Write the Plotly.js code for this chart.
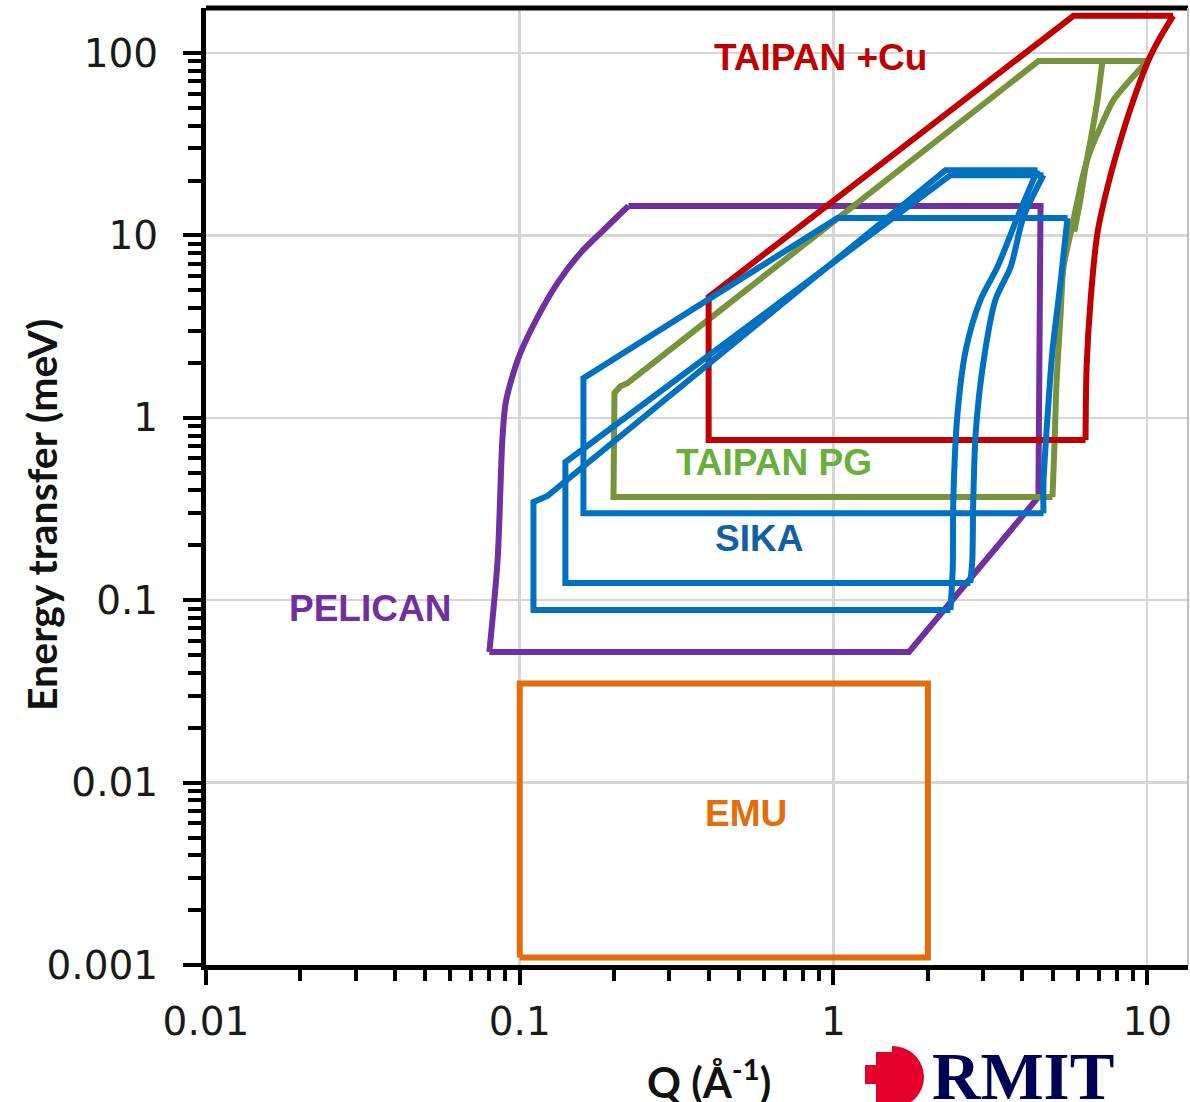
<!DOCTYPE html>
<html><head><meta charset="utf-8">
<script src="https://cdn.plot.ly/plotly-3.0.1.min.js"></script>
<style>html,body{margin:0;padding:0;background:#fff;}#chart{width:1190px;height:1102px;}</style>
</head><body><div id="chart"></div>
<script>
// ---- Data (Q in 1/Å, energy transfer in meV) ----
const emuQ = [0.1, 0.1, 2.0, 2.0, 0.1];
const emuE = [0.0011, 0.035, 0.035, 0.0011, 0.0011];

const pelicanQ = [0.222, 0.185, 0.156, 0.132, 0.114, 0.1005, 0.0934, 0.090, 0.088, 0.085, 0.080, 1.74, 4.50, 4.57, 0.222];
const pelicanE = [14.5, 10.7, 8.0, 5.5, 3.57, 2.27, 1.55, 1.18, 0.755, 0.166, 0.052, 0.052, 0.368, 14.5, 14.5];

const taipanPgQ = [0.199, 4.99, 5.07, 5.14, 5.29, 5.41, 5.70, 6.00, 6.27, 6.60, 7.10, 7.81, 8.65, 10.0, 4.50, 0.2205, 0.2094, 0.2004, 0.199];
const taipanPgE = [0.368, 0.368, 0.756, 1.55, 3.57, 6.71, 10.3, 15.6, 22.0, 29.4, 39.3, 55.3, 68.5, 90.4, 90.4, 1.55, 1.49, 1.37, 0.368];
const taipanPgBranchQ = [7.20, 6.94, 6.60, 6.36, 6.12, 5.85];
const taipanPgBranchE = [90.4, 55.3, 33.3, 23.7, 15.6, 10.5];

const taipanCuQ = [0.40, 0.40, 6.36, 6.41, 6.60, 6.94, 7.47, 8.22, 9.04, 10.1, 11.0, 12.1, 5.82, 0.40];
const taipanCuE = [4.6, 0.756, 0.756, 1.90, 4.42, 10.3, 18.4, 33.3, 55.3, 91.5, 122, 160, 160, 4.6];

const sika1Q = [0.1106, 0.1106, 0.1225, 2.275, 4.47, 3.86, 3.33, 2.94, 2.64, 2.48, 2.41, 2.40, 2.36, 0.1106];
const sika1E = [0.0884, 0.3455, 0.3726, 22.8, 22.8, 12.6, 6.71, 4.42, 2.35, 1.01, 0.354, 0.152, 0.0884, 0.0884];
const sika2Q = [0.1398, 0.1398, 0.1472, 2.36, 4.67, 4.03, 3.67, 3.28, 2.99, 2.84, 2.79, 2.77, 2.73, 0.1398];
const sika2E = [0.1243, 0.572, 0.610, 21.4, 21.4, 12.6, 6.71, 4.42, 1.90, 0.825, 0.354, 0.166, 0.1243, 0.1243];
const sika3Q = [0.1596, 0.1596, 1.03, 5.57, 5.29, 4.99, 4.81, 4.67, 4.67, 0.1596];
const sika3E = [0.30, 1.65, 12.45, 12.45, 5.48, 2.35, 1.01, 0.439, 0.30, 0.30];

const xTickVals = [0.01, 0.1, 1, 10];
const xTickText = ['0.01', '0.1', '1', '10'];
const yTickVals = [0.001, 0.01, 0.1, 1, 10, 100];
const yTickText = ['0.001', '0.01', '0.1', '1', '10', '100'];
const minorDigits = [2, 3, 4, 5, 6, 7, 8, 9];
const xMinorDecades = [0.01, 0.1, 1];
const yMinorDecades = [0.001, 0.01, 0.1, 1, 10];

const labels = [
  {text: 'TAIPAN +Cu', q: 0.91, e: 94, color: '#C00000'},
  {text: 'TAIPAN PG', q: 0.644, e: 0.572, color: '#6AAF3C'},
  {text: 'SIKA', q: 0.577, e: 0.219, color: '#1160A6'},
  {text: 'PELICAN', q: 0.0332, e: 0.0905, color: '#7030A0'},
  {text: 'EMU', q: 0.528, e: 0.00673, color: '#E46C0A'}
];

// ---- build ----
const xMinor = [], yMinor = [];
xMinorDecades.forEach(d => minorDigits.forEach(m => xMinor.push(m * d)));
yMinorDecades.forEach(d => minorDigits.forEach(m => yMinor.push(m * d)));

const LW = 6;
function tr(x, y, color, shape) {
  return {x: x, y: y, type: 'scatter', mode: 'lines', hoverinfo: 'skip',
          line: {color: color, width: LW, shape: shape || 'linear', smoothing: 0.8}, showlegend: false};
}
// polygon split into a straight part and a smooth curved part [i0..i1]
function poly(q, e, i0, i1, color) {
  const n = q.length; // last point equals first
  const sq = [], se = [];
  for (let i = i1; i < n; i++) { sq.push(q[i]); se.push(e[i]); }
  for (let i = 1; i <= i0; i++) { sq.push(q[i]); se.push(e[i]); }
  return [tr(sq, se, color), tr(q.slice(i0, i1 + 1), e.slice(i0, i1 + 1), color, 'spline')];
}

const data = [].concat(
  [tr(emuQ, emuE, '#E46C0A')],
  poly(pelicanQ, pelicanE, 0, 10, '#7030A0'),
  poly(taipanPgQ, taipanPgE, 1, 13, '#77933C'),
  [tr(taipanPgBranchQ, taipanPgBranchE, '#77933C', 'spline')],
  poly(taipanCuQ, taipanCuE, 2, 11, '#C00000'),
  poly(sika1Q, sika1E, 4, 12, '#0070C0'),
  poly(sika2Q, sika2E, 4, 12, '#0070C0'),
  poly(sika3Q, sika3E, 3, 8, '#0070C0')
);

// pixel -> paper helpers for decoration (plot area 206..1188 x 8..965)
const PX0 = 206, PW = 982, PY0 = 965, PH = 957;
function px(x) { return (x - PX0) / PW; }
function py(y) { return (PY0 - y) / PH; }
function P(x, y) { return px(x) + ',' + py(y); }

const logoPath = 'M' + P(892, 1046) + ' C' + P(910, 1046) + ' ' + P(924, 1060) + ' ' + P(924, 1077) +
  ' C' + P(924, 1094) + ' ' + P(910, 1108) + ' ' + P(892, 1108) +
  ' L' + P(876, 1108) + ' L' + P(876, 1084) + ' L' + P(865, 1084) + ' L' + P(865, 1065) +
  ' L' + P(876, 1065) + ' L' + P(876, 1052) + ' L' + P(892, 1052) + ' Z';

const annotations = labels.map(l => ({
  x: Math.log10(l.q), y: Math.log10(l.e), xref: 'x', yref: 'y', text: l.text, showarrow: false,
  xanchor: 'center', yanchor: 'middle',
  font: {family: 'Liberation Sans, Arial, sans-serif', size: 37, color: l.color, weight: 'bold'}
}));
annotations.push({
  x: px(41), y: py(515), xref: 'paper', yref: 'paper', text: 'Energy transfer (meV)', textangle: -90,
  xanchor: 'center', yanchor: 'middle',
  showarrow: false, font: {family: 'Lato, sans-serif', size: 41, color: '#111', weight: 'bold'}
});
annotations.push({
  x: px(709), y: py(1079), xref: 'paper', yref: 'paper', text: 'Q (Å<sup>-1</sup>)',
  xanchor: 'center', yanchor: 'middle',
  showarrow: false, font: {family: 'Lato, sans-serif', size: 42, color: '#111', weight: 'bold'}
});
annotations.push({
  x: px(1023), y: py(1076), xref: 'paper', yref: 'paper', text: 'RMIT',
  xanchor: 'center', yanchor: 'middle',
  showarrow: false, font: {family: 'Liberation Serif, serif', size: 67, color: '#000054', weight: 'bold'}
});

const tickFont = {family: 'DejaVu Sans, sans-serif', size: 39, color: '#1a1a1a'};
const layout = {
  width: 1190, height: 1102,
  margin: {l: 206, r: 2, t: 8, b: 137, pad: 0},
  paper_bgcolor: '#fff', plot_bgcolor: '#fff',
  showlegend: false,
  xaxis: {
    type: 'log', range: [-2, 1.130], tickmode: 'array', tickvals: xTickVals, ticktext: xTickText,
    ticks: 'outside', ticklen: 15, tickwidth: 4, tickcolor: '#000',
    showline: true, linecolor: '#000', linewidth: 5,
    showgrid: true, gridcolor: '#d6d6d6', gridwidth: 2.5, zeroline: false,
    tickfont: tickFont, ticklabelstandoff: 3,
    minor: {tickmode: 'array', tickvals: xMinor, ticks: 'outside', ticklen: 11, tickwidth: 4, tickcolor: '#000', showgrid: false}
  },
  yaxis: {
    type: 'log', range: [-3, 2.247], tickmode: 'array', tickvals: yTickVals, ticktext: yTickText,
    ticks: 'outside', ticklen: 18, tickwidth: 4, tickcolor: '#000',
    showline: true, linecolor: '#000', linewidth: 5,
    showgrid: true, gridcolor: '#d6d6d6', gridwidth: 2.5, zeroline: false,
    tickfont: tickFont, ticklabelstandoff: 17,
    minor: {tickmode: 'array', tickvals: yMinor, ticks: 'outside', ticklen: 13, tickwidth: 4, tickcolor: '#000', showgrid: false}
  },
  shapes: [
    {type: 'line', xref: 'paper', yref: 'paper', x0: 0, x1: 1, y0: 1, y1: 1, line: {color: '#000', width: 5}},
    {type: 'line', xref: 'paper', yref: 'paper', x0: 1, x1: 1, y0: 0, y1: 1, line: {color: '#bfbfbf', width: 2}},
    {type: 'path', xref: 'paper', yref: 'paper', path: logoPath, fillcolor: '#E4002B', line: {width: 0}}
  ],
  annotations: annotations
};
Plotly.newPlot('chart', data, layout, {displayModeBar: false, staticPlot: true});
</script>
</body></html>
